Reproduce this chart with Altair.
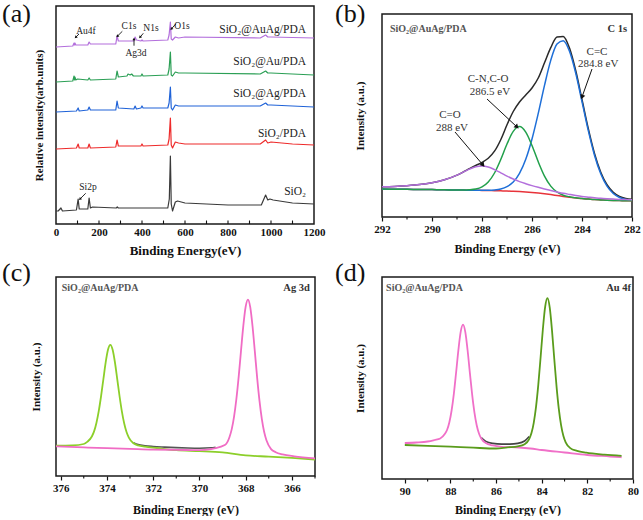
import math
import altair as alt
import pandas as pd

SERIF = "Liberation Serif"
INK = "#111111"
FRAME = "#1a1a1a"

# ---------------- Panel (a): survey spectra ----------------
A_SERIES = ["SiO₂", "SiO₂/PDA", "SiO₂@Ag/PDA", "SiO₂@Au/PDA", "SiO₂@AuAg/PDA"]
A_COLORS = ["#3a3a3a", "#ee2b2b", "#2063d8", "#2b9f55", "#b36fdc"]

sio2_E = [0, 10, 23, 30, 95, 103, 108, 148, 154, 160, 170, 280, 285, 290, 520, 527, 532, 536, 542, 555, 565, 600, 700, 800, 900, 955, 965, 975, 985, 995, 1010, 1100, 1200]
sio2_I = [13, 13, 16, 13, 14, 25, 15, 15, 26, 16, 17, 16, 17, 16, 16, 25, 68, 20, 13, 22, 23, 21, 20, 19, 19, 19, 24, 29, 24, 25, 24, 21, 20]

pda_E = [0, 95, 103, 108, 148, 154, 160, 278, 284, 290, 395, 400, 405, 520, 526, 532, 536, 542, 555, 570, 600, 950, 975, 985, 1000, 1100, 1200]
pda_I = [75, 76, 80, 76, 76, 80, 76, 77, 84, 78, 78, 80, 78, 79, 85, 106, 79, 76, 82, 81, 80, 80, 84, 81, 82, 80, 79]

ag_E = [0, 95, 103, 108, 148, 154, 160, 278, 284, 290, 362, 368, 374, 395, 400, 405, 520, 526, 532, 536, 542, 555, 570, 600, 950, 975, 985, 1000, 1200]
ag_I = [112, 113, 116, 113, 114, 117, 114, 114, 123, 116, 115, 118, 115, 116, 118, 116, 116, 121, 137, 116, 114, 119, 118, 118, 118, 121, 119, 119, 117]

au_E = [0, 78, 84, 86, 88, 92, 100, 148, 154, 160, 278, 284, 290, 330, 335, 345, 352, 360, 395, 400, 405, 520, 526, 532, 536, 542, 555, 570, 600, 950, 975, 985, 1000, 1200]
au_I = [142, 143, 148, 144, 147, 144, 145, 144, 146, 144, 145, 153, 147, 148, 150, 149, 150, 148, 148, 150, 148, 149, 155, 172, 149, 148, 152, 151, 151, 150, 153, 151, 151, 149]

auag_E = [0, 78, 84, 86, 88, 92, 148, 154, 160, 278, 284, 290, 362, 368, 374, 395, 400, 405, 520, 526, 532, 536, 542, 555, 570, 600, 950, 975, 985, 1000, 1200]
auag_I = [177, 178, 181, 179, 181, 179, 179, 182, 180, 180, 188, 183, 183, 187, 184, 183, 184, 183, 184, 189, 202, 185, 184, 187, 186, 187, 186, 189, 187, 187, 186]

A_LABEL_E = [1163, 1163, 1163, 1163, 1163]
A_LABEL_I = [32, 90, 130, 162, 194]

A_PEAK_TEXT = ["Au4f", "C1s", "N1s", "Ag3d", "O1s", "Si2p"]
A_PEAK_E = [139.5, 339.5, 441.9, 372.0, 586.0, 148.8]
A_PEAK_I = [193, 198, 196, 171, 198, 37]
A_ARROW_E1 = [107.0, 308.4, 406.0, 362.8, 556.7, 138.1]
A_ARROW_I1 = [190.0, 192.7, 190.7, 178.3, 200.0, 30.7]
A_ARROW_E2 = [91.6, 285.1, 390.7, 362.8, 536.3, 111.6]
A_ARROW_I2 = [186.7, 187.7, 186.7, 185.0, 195.0, 25.0]

A_TICK_LABELS = [0, 200, 400, 600, 800, 1000, 1200]
A_TICKS_IN = [100, 200, 300, 400, 500, 600, 700, 800, 900, 1000, 1100]

# ---------------- Panel (b): C 1s ----------------
b_E = [292, 291.5, 291, 290.5, 290, 289.5, 289, 288.75, 288.5, 288.25, 288, 287.75, 287.5, 287.25, 287, 286.75, 286.5, 286.25, 286, 285.75, 285.5, 285.25, 285, 284.75, 284.5, 284.25, 284, 283.75, 283.5, 283.25, 283, 282.75, 282.5, 282.25, 282]
b_env = [30.2, 30.6, 31.3, 32.4, 34.3, 37.2, 41.9, 45.0, 48.3, 51.5, 54.7, 58.7, 65.8, 77.3, 92.2, 105.5, 115.0, 122.0, 129.0, 139.0, 154.2, 169.3, 180.0, 180.6, 168.9, 146.2, 117.5, 88.55, 63.55, 44.8, 32.25, 24.8, 20.7, 18.6, 17.7]
b_base = [28.0, 27.8, 27.7, 27.5, 27.4, 27.2, 27.0, 26.9, 26.8, 26.7, 26.6, 26.45, 26.3, 26.15, 26.0, 25.7, 25.4, 25.0, 24.5, 23.9, 23.2, 22.4, 21.5, 20.6, 19.8, 19.1, 18.4, 17.9, 17.4, 17.1, 16.8, 16.6, 16.4, 16.3, 16.2]
b_cc = [28.0, 27.8, 27.7, 27.5, 27.4, 27.2, 27.0, 26.9, 26.8, 26.7, 26.7, 26.7, 27.0, 27.95, 30.3, 34.9, 43.6, 57.7, 78.0, 103.6, 131.6, 156.6, 172.9, 176.3, 165.7, 143.7, 115.3, 86.6, 61.8, 43.2, 30.8, 23.5, 19.5, 17.5, 16.7]
b_cn = [28.0, 27.8, 27.7, 27.5, 27.4, 27.2, 27.0, 27.0, 27.2, 27.9, 30.1, 35.0, 44.0, 57.5, 73.0, 85.6, 90.4, 84.9, 71.5, 55.2, 40.9, 30.9, 25.0, 21.8, 20.2, 19.2, 18.4, 17.9, 17.4, 17.1, 16.8, 16.6, 16.4, 16.3, 16.2]
b_co = [30.2, 30.6, 31.3, 32.4, 34.3, 37.2, 41.9, 44.9, 47.9, 50.3, 51.1, 50.0, 47.4, 44.2, 40.9, 37.95, 35.4, 33.3, 31.4, 29.7, 28.1, 26.6, 25.1, 23.7, 22.6, 21.55, 20.6, 19.85, 19.15, 18.7, 18.25, 17.9, 17.6, 17.4, 17.2]

B_TEXT = ["C=C", "284.8 eV", "C-N,C-O", "286.5 eV", "C=O", "288 eV"]
B_TEXT_E = [283.4, 283.35, 287.76, 287.68, 289.28, 289.2]
B_TEXT_I = [165, 153, 138, 125, 102, 89]
B_ARROW_E1 = [283.6, 287.8, 289.08]
B_ARROW_I1 = [148, 118, 85]
B_ARROW_E2 = [284.0, 286.6, 287.96]
B_ARROW_I2 = [120, 90, 52]
B_TICK_LABELS = [292, 290, 288, 286, 284, 282]
B_TICKS_MINOR = [291, 289, 287, 285, 283]

# ---------------- Panel (c): Ag 3d ----------------
c_green_E = [376.2, 375.5, 375.0, 374.85, 374.65, 374.55, 374.45, 374.35, 374.25, 374.15, 374.05, 373.95, 373.85, 373.75, 373.65, 373.55, 373.45, 373.35, 373.25, 373.15, 373.05, 372.85, 372.65, 372.35, 371.85, 371.0, 370.0, 369.0, 368.0, 367.0, 366.0, 365.0]
c_green_I = [30.3, 30.6, 32.0, 34.1, 39.5, 44.9, 53.3, 65.1, 80.0, 97.0, 113.8, 126.4, 131.2, 126.3, 113.5, 96.6, 79.5, 64.4, 52.5, 44.0, 38.4, 32.7, 30.6, 29.3, 28.0, 25.8, 24.9, 23.6, 20.6, 19.4, 18.1, 16.5]
c_pink_E = [376.2, 375.0, 374.0, 373.0, 372.0, 371.0, 370.0, 369.5, 369.4, 368.9, 368.7, 368.6, 368.5, 368.4, 368.3, 368.2, 368.1, 368.0, 367.9, 367.8, 367.7, 367.6, 367.5, 367.4, 367.3, 367.2, 367.1, 366.9, 366.7, 366.4, 365.9, 365.0]
c_pink_I = [29.7, 28.6, 27.8, 27.1, 26.4, 26.2, 25.8, 26.9, 27.4, 30.9, 38.8, 46.9, 59.4, 77.0, 99.4, 125.1, 150.1, 169.1, 176.4, 168.9, 149.5, 124.1, 97.9, 75.1, 57.1, 44.2, 35.7, 26.9, 23.8, 21.6, 19.7, 17.6]
c_env_E = [372.85, 372.65, 372.35, 372.0, 371.5, 371.0, 370.5, 370.0, 369.5, 369.3]
c_env_I = [33.4, 31.4, 30.2, 29.5, 28.9, 28.4, 28.0, 27.8, 28.2, 28.8]
C_TICK_LABELS = [376, 374, 372, 370, 368, 366]
C_TICKS_MINOR = [375, 373, 371, 369, 367, 365]

# ---------------- Panel (d): Au 4f ----------------
d_pink_E = [90.0, 89.5, 89.0, 88.7, 88.45, 88.25, 88.15, 88.05, 87.95, 87.85, 87.75, 87.65, 87.55, 87.45, 87.35, 87.25, 87.15, 87.05, 86.95, 86.85, 86.75, 86.65, 86.45, 86.15, 85.75, 85.0, 84.5, 84.0, 83.0, 82.0, 81.0, 80.5]
d_pink_I = [36.0, 36.5, 37.5, 39.0, 40.5, 45.0, 49.0, 56.5, 68.5, 85.4, 107.0, 129.4, 147.3, 154.3, 147.1, 129.0, 106.4, 84.6, 66.7, 53.8, 45.5, 40.5, 35.9, 33.6, 32.2, 31.5, 30.5, 29.0, 26.5, 24.0, 22.5, 21.7]
d_green_E = [90.0, 89.0, 88.0, 87.0, 86.0, 85.5, 85.05, 84.75, 84.55, 84.45, 84.35, 84.25, 84.15, 84.05, 83.95, 83.85, 83.75, 83.65, 83.55, 83.45, 83.35, 83.25, 83.15, 83.05, 82.95, 82.75, 82.45, 82.05, 81.25, 80.5]
d_green_I = [34.0, 33.2, 32.3, 31.3, 30.5, 31.7, 32.7, 34.8, 39.9, 45.9, 56.2, 72.1, 94.3, 121.5, 149.7, 172.1, 180.8, 171.6, 148.7, 120.0, 92.4, 69.8, 53.6, 43.0, 36.7, 30.9, 28.1, 26.3, 24.4, 23.2]
d_env_E = [86.65, 86.45, 86.15, 85.75, 85.4, 85.05, 84.75, 84.55]
d_env_I = [41.5, 37.6, 35.6, 34.9, 34.9, 35.6, 38.0, 42.5]
D_TICK_LABELS = [90, 88, 86, 84, 82, 80]
D_TICKS_MINOR = [89, 87, 85, 83, 81]


def make_enc(xdom, reverse, ydom, tick_values, ticks_on, x_title, x_title_size,
             x_title_pad, y_title, y_title_pad, yrange=None):
    xs = alt.Scale(domain=xdom, reverse=reverse, nice=False, zero=False)
    if yrange is None:
        ys = alt.Scale(domain=ydom, nice=False, zero=False)
    else:
        ys = alt.Scale(domain=ydom, range=yrange, nice=False, zero=False)
    xa = alt.Axis(values=tick_values, title=x_title, grid=False, domain=False,
                  ticks=ticks_on, tickSize=4, tickWidth=1.2, tickColor=INK,
                  labelFont=SERIF, labelFontSize=11, labelFontWeight="bold",
                  labelColor=INK, labelPadding=2, labelFlush=False,
                  labelOverlap=False, format="d",
                  titleFont=SERIF, titleFontSize=x_title_size, titleFontWeight="bold",
                  titleColor=INK, titlePadding=x_title_pad)
    ya = alt.Axis(title=y_title, labels=False, ticks=False, domain=False, grid=False,
                  titleFont=SERIF, titleFontSize=11, titleFontWeight="bold",
                  titleColor=INK, titlePadding=y_title_pad)

    def X(f):
        return alt.X(f, type="quantitative", scale=xs, axis=xa)

    def Y(f):
        return alt.Y(f, type="quantitative", scale=ys, axis=ya)
    return X, Y


def line(E, I, color, width, X, Y, interp="monotone"):
    df = pd.DataFrame({"E": E, "I": I})
    return alt.Chart(df).mark_line(color=color, strokeWidth=width, interpolate=interp,
                                   strokeJoin="round").encode(x=X("E"), y=Y("I"))


def texts(T, E, I, X, Y, size, align="center", weight="normal", color="#222", baseline="middle"):
    df = pd.DataFrame({"E": E, "I": I, "T": T})
    return alt.Chart(df).mark_text(font=SERIF, fontSize=size, align=align, baseline=baseline,
                                   fontWeight=weight, color=color).encode(
        x=X("E"), y=Y("I"), text="T:N")


def arrows(E1, I1, E2, I2, X, Y, xpx, ypx, size, width):
    df = pd.DataFrame({"E": E1, "I": I1, "E2": E2, "I2": I2})
    ang = [math.degrees(math.atan2((b - a) * xpx, (d - c) * ypx)) % 360
           for a, b, c, d in zip(E1, E2, I1, I2)]
    heads = pd.DataFrame({"E": E2, "I": I2, "ang": ang})
    r = alt.Chart(df).mark_rule(color=INK, strokeWidth=width).encode(
        x=X("E"), y=Y("I"), x2=alt.X2("E2"), y2=alt.Y2("I2"))
    h = alt.Chart(heads).mark_point(shape="triangle-up", filled=True, size=size,
                                    color=INK, opacity=1).encode(
        x=X("E"), y=Y("I"), angle=alt.Angle("ang:Q", scale=None))
    return [r, h]


def minor_ticks(vals, X, y0, y1):
    df = pd.DataFrame({"E": vals})
    return alt.Chart(df).mark_rule(color=INK, strokeWidth=1.1).encode(
        x=X("E"), y=alt.value(y0), y2=alt.value(y1))


def panel_label(txt, dx, dy):
    df = pd.DataFrame({"t": [txt]})
    return alt.Chart(df).mark_text(font=SERIF, fontSize=26, align="left", baseline="top",
                                   color=INK).encode(x=alt.value(dx), y=alt.value(dy), text="t:N")


def frame_box(x0, x1, y0, y1):
    df = pd.DataFrame({"k": [0]})
    return alt.Chart(df).mark_rect(fillOpacity=0, stroke=FRAME, strokeWidth=1.5).encode(
        x=alt.value(x0), x2=alt.value(x1), y=alt.value(y0), y2=alt.value(y1))


# ---- (a)  plot area 57..315 x 7..225
WA, HA = 258, 218
Xa, Ya = make_enc([0, 1200], False, [0, 218], A_TICK_LABELS, False,
                  "Binding Energy(eV)", 13, 7, "Relative intensity(arb.units)", 12)
a_layers = [
    line(sio2_E, sio2_I, A_COLORS[0], 1.2, Xa, Ya, "linear"),
    line(pda_E, pda_I, A_COLORS[1], 1.2, Xa, Ya, "linear"),
    line(ag_E, ag_I, A_COLORS[2], 1.2, Xa, Ya, "linear"),
    line(au_E, au_I, A_COLORS[3], 1.2, Xa, Ya, "linear"),
    line(auag_E, auag_I, A_COLORS[4], 1.2, Xa, Ya, "linear"),
    minor_ticks(A_TICKS_IN, Xa, HA, HA - 3.5),
    texts(A_SERIES, A_LABEL_E, A_LABEL_I, Xa, Ya, 11.5, align="right", color="#222"),
    texts(A_PEAK_TEXT, A_PEAK_E, A_PEAK_I, Xa, Ya, 9.5, color="#222"),
] + arrows(A_ARROW_E1, A_ARROW_I1, A_ARROW_E2, A_ARROW_I2, Xa, Ya,
           WA / 1200, HA / 218, 10, 0.9) + [panel_label("(a)", -54, -5)]
panel_a = alt.layer(*a_layers).properties(width=WA, height=HA)

# ---- (b)  view 382..632 x 7..218, data frame 15..218
WB, HB_VIEW, B_TOP = 250, 211, 8
HB = HB_VIEW - B_TOP
Xb, Yb = make_enc([282, 292], True, [0, 203], B_TICK_LABELS, True,
                  "Binding Energy (eV)", 12, 9, "Intensity (a.u.)", 17,
                  yrange=[HB_VIEW, B_TOP])
b_layers = [
    frame_box(0, WB, B_TOP, HB_VIEW),
    line(b_E, b_env, "#2a2a2a", 1.5, Xb, Yb),
    line(b_E, b_base, "#e8333a", 1.5, Xb, Yb),
    line(b_E, b_cc, "#1e6fd8", 1.5, Xb, Yb),
    line(b_E, b_cn, "#22a04b", 1.5, Xb, Yb),
    line(b_E, b_co, "#b36fdc", 1.5, Xb, Yb),
    minor_ticks(B_TICKS_MINOR, Xb, HB_VIEW, HB_VIEW + 2.5),
    texts(["SiO₂@AuAg/PDA"], [291.68], [188], Xb, Yb, 10, align="left", weight="bold", color="#555"),
    texts(["C 1s"], [282.2], [188], Xb, Yb, 10.5, align="right", weight="bold", color="#333"),
    texts(B_TEXT, B_TEXT_E, B_TEXT_I, Xb, Yb, 11, color="#333"),
] + arrows(B_ARROW_E1, B_ARROW_I1, B_ARROW_E2, B_ARROW_I2, Xb, Yb,
           -WB / 10, HB / 203, 28, 1.0) + [panel_label("(b)", -47, -5)]
panel_b = alt.layer(*b_layers).properties(
    width=WB, height=HB_VIEW, view=alt.ViewBackground(stroke="transparent"))

# ---- (c)  plot area 57..316 x 279..478
WC, HC = 259, 199
Xc, Yc = make_enc([365, 376.2], True, [0, 199], C_TICK_LABELS, True,
                  "Binding Energy (eV)", 12, 11, "Intensity (a.u.)", 15)
c_layers = [
    line(c_env_E, c_env_I, "#555555", 1.6, Xc, Yc),
    line(c_green_E, c_green_I, "#8ccf2a", 1.8, Xc, Yc),
    line(c_pink_E, c_pink_I, "#f06cc4", 1.8, Xc, Yc),
    minor_ticks(C_TICKS_MINOR, Xc, HC, HC + 2.5),
    texts(["SiO₂@AuAg/PDA"], [375.95], [188], Xc, Yc, 10, align="left", weight="bold", color="#555"),
    texts(["Ag 3d"], [365.22], [188], Xc, Yc, 10.5, align="right", weight="bold", color="#333"),
    panel_label("(c)", -54, -17),
]
panel_c = alt.layer(*c_layers).properties(width=WC, height=HC)

# ---- (d)  plot area 382..633 x 279..481
WD, HD = 251, 202
Xd, Yd = make_enc([80, 91], True, [0, 202], D_TICK_LABELS, True,
                  "Binding Energy (eV)", 12, 8, "Intensity (a.u.)", 17)
d_layers = [
    line(d_env_E, d_env_I, "#444444", 1.6, Xd, Yd),
    line(d_pink_E, d_pink_I, "#f070c8", 1.8, Xd, Yd),
    line(d_green_E, d_green_I, "#5a9c1c", 1.8, Xd, Yd),
    minor_ticks(D_TICKS_MINOR, Xd, HD, HD + 2.5),
    texts(["SiO₂@AuAg/PDA"], [90.82], [191], Xd, Yd, 10, align="left", weight="bold", color="#555"),
    texts(["Au 4f"], [80.09], [191], Xd, Yd, 10.5, align="right", weight="bold", color="#333"),
    panel_label("(d)", -47, -17),
]
panel_d = alt.layer(*d_layers).properties(width=WD, height=HD)

chart = alt.vconcat(
    alt.hconcat(panel_a, panel_b, spacing=8),
    alt.hconcat(panel_c, panel_d, spacing=17),
    spacing=1,
).properties(
    padding={"left": 1, "top": 0, "right": 0, "bottom": 0},
    background="white",
).configure_view(stroke=FRAME, strokeWidth=1.5)

chart.save("out.html", embed_options={"renderer": "svg", "actions": False})
